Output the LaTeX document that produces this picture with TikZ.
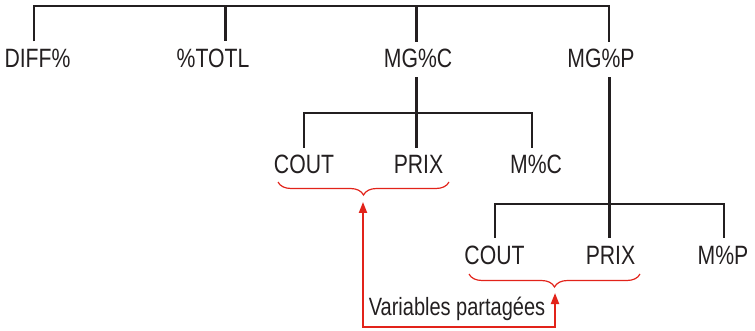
\documentclass[tikz,border=0pt]{standalone}
\usepackage{fontspec}
\setmainfont{Liberation Sans}[FakeStretch=0.8]
\usetikzlibrary{decorations.pathreplacing,arrows.meta}
\definecolor{ink}{RGB}{35,31,32}
\definecolor{accent}{RGB}{226,35,26}
\begin{document}
\begin{tikzpicture}[x=1pt,y=-1pt,
  lbl/.style={anchor=base,inner sep=0pt,text height=26pt,text depth=9pt,font=\fontsize{26.5}{30}\selectfont,text=ink},
  tl/.style={draw=ink,line width=2pt},
  tk/.style={draw=ink,line width=3pt},
  br/.style={draw=accent,line width=1.2pt,decorate,decoration={brace,mirror,amplitude=13pt}},
  rl/.style={draw=accent,line width=2pt,{Triangle[length=11pt,width=8pt]}-{Triangle[length=11pt,width=8pt]}}]
\useasboundingbox (0,0) rectangle (755,331);
% labels
\node[lbl] (diff) at (37.5,67.5) {DIFF\%};
\node[lbl] (totl) at (213,67.5) {\%TOTL};
\node[lbl] (mgc) at (418,68) {MG\%C};
\node[lbl] (mgp) at (601,68) {MG\%P};
\node[lbl] (cout1) at (304,174) {COUT};
\node[lbl] (prix1) at (418.5,174) {PRIX};
\node[lbl] (mc) at (536,174) {M\%C};
\node[lbl] (cout2) at (494.5,264) {COUT};
\node[lbl] (prix2) at (610.5,264) {PRIX};
\node[lbl] (mp) at (723,264) {M\%P};
\node[anchor=base,inner sep=0pt,font=\fontsize{25}{30}\selectfont,text=ink] (var) at (457,315) {Variables partagées};
% junction coordinates
\coordinate (t1) at (34,6);
\coordinate (t2) at (225,6);
\coordinate (t3) at (416,6);
\coordinate (t4) at (609,6);
\coordinate (b2c) at (304,113);
\coordinate (b2p) at (416,113);
\coordinate (b2m) at (532,113);
\coordinate (b3c) at (495,204);
\coordinate (b3p) at (609,204);
\coordinate (b3m) at (724,204);
% tree
\draw[tl] (t1 |- diff.north) -- (t1) -- (t4) -- (t4 |- mgp.north);
\draw[tk] (t2) -- (t2 |- totl.north);
\draw[tk] (t3) -- (t3 |- mgc.north);
\draw[tk] (mgc.south -| b2p) -- (b2p |- prix1.north);
\draw[tl] (b2c |- cout1.north) -- (b2c) -- (b2m) -- (b2m |- mc.north);
\draw[tk] (mgp.south -| b3p) -- (b3p |- prix2.north);
\draw[tl] (b3c |- cout2.north) -- (b3c) -- (b3m) -- (b3m |- mp.north);
% braces
\coordinate (br1a) at (278,182);
\coordinate (br1b) at (449,182);
\coordinate (br2a) at (469,274);
\coordinate (br2b) at (640,274);
\draw[br] (br1a) -- (br1b);
\draw[br] (br2a) -- (br2b);
% shared arrow
\coordinate (a1) at (363,202);
\coordinate (a2) at (555,293);
\coordinate (bot) at (0,327);
\draw[rl] (a1) -- (a1 |- bot) -| (a2);
\end{tikzpicture}
\end{document}
